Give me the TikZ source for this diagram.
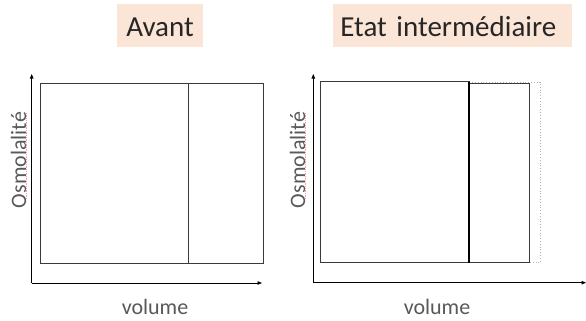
\documentclass[tikz,border=0pt]{standalone}
\usepackage{fontspec}
\setmainfont{Carlito}
\usetikzlibrary{arrows.meta}
\definecolor{titlefill}{HTML}{FBE5D6}
\definecolor{boxline}{HTML}{3A3A3A}
\definecolor{labelgray}{HTML}{595959}
\definecolor{spellred}{HTML}{F4A6A6}
\begin{document}
\begin{tikzpicture}[x=1pt,y=-1pt,
  titlebox/.style={fill=titlefill, inner ysep=0pt, minimum height=43.3pt,
    text height=21pt, text depth=0pt,
    text=black!85, font=\fontsize{29}{33}\selectfont},
  axislabel/.style={inner sep=0pt, text=labelgray, font=\fontsize{22}{26}\selectfont},
  axis/.style={-{Triangle[length=4.5pt,width=3.5pt]}, line width=0.6pt, black},
  compart/.style={draw=boxline, line width=0.9pt},
  membrane/.style={draw=black, line width=1.8pt},
  former/.style={draw=black!30, line width=0.8pt, dotted},
  spell/.style={draw=spellred, line width=0.7pt, densely dotted},
]
\useasboundingbox (0,0) rectangle (586,321);

% titles
\node[titlebox, inner xsep=0pt, minimum width=86pt] (t1) at (160,25.6) {Avant};
\node[titlebox, inner xsep=7.3pt, text width=224.4pt, align=left] (t2) at (452.5,25.6) {Etat intermédiaire};

% ---- left diagram: initial state
\coordinate (o1) at (31.7,283);
\coordinate (y1) at (31.7,74);
\coordinate (x1) at (262,283);
\draw[axis] (o1) -- (y1);
\draw[axis] (o1) -- (x1);
\draw[compart] (40.3,83.3) rectangle (263,263.3);
\draw[compart] (188.7,83.3) -- (188.7,263.3);
\draw[spell] (26.8,113) -- (26.8,199);
\node[axislabel, rotate=90, anchor=base] (yl1) at (26,160) {Osmolalité};
\node[axislabel, anchor=base] (xl1) at (155,314) {volume};

% ---- right diagram: intermediate state
\coordinate (o2) at (313.3,282.7);
\coordinate (y2) at (313.3,74);
\coordinate (x2) at (586,282.7);
\draw[axis] (o2) -- (y2);
\draw[axis] (o2) -- (x2);
\draw[former] (469.3,82) -- (540,82) -- (540,262.5) -- (469.3,262.5);
\draw[compart] (320.3,81.7) rectangle (469.3,262.3);
\draw[compart] (469.3,83.3) rectangle (529.3,262.7);
\draw[membrane] (469.3,81.7) -- (469.3,262.7);
\draw[spell] (305.8,113) -- (305.8,199);
\node[axislabel, rotate=90, anchor=base] (yl2) at (305,160) {Osmolalité};
\node[axislabel, anchor=base] (xl2) at (437,314) {volume};
\end{tikzpicture}
\end{document}
